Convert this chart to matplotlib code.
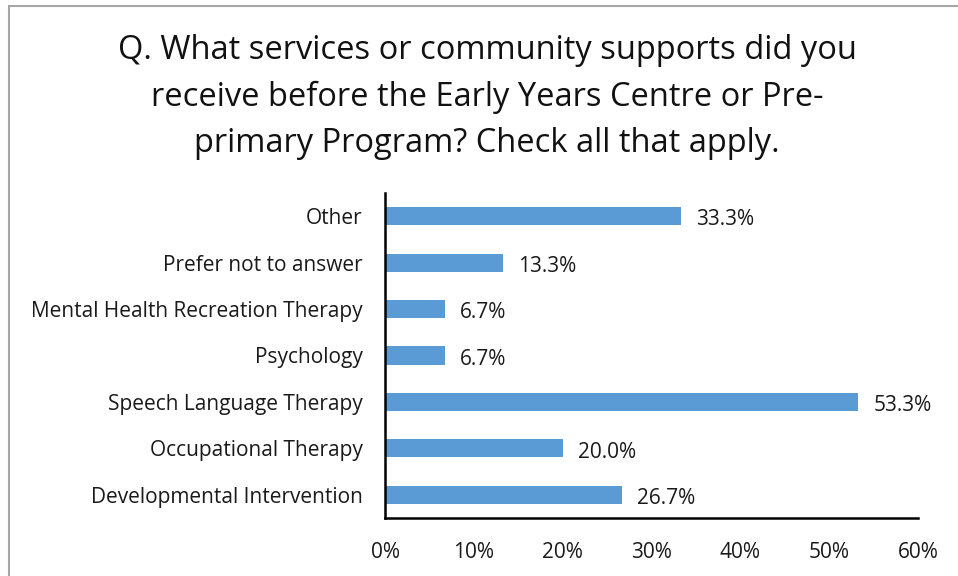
import matplotlib.pyplot as plt
from matplotlib.patches import Rectangle

# survey responses, bottom to top as drawn
servicios = ['Developmental Intervention', 'Occupational Therapy', 'Speech Language Therapy',
             'Psychology', 'Mental Health Recreation Therapy', 'Prefer not to answer', 'Other']
porcentajes = [26.7, 20.0, 53.3, 6.7, 6.7, 13.3, 33.3]
ticks_x = [0, 10, 20, 30, 40, 50, 60]

plt.rcParams['font.family'] = ['Open Sans', 'DejaVu Sans']

fig = plt.figure(figsize=(9.58, 5.76), dpi=100)
fig.patches.append(Rectangle((9 / 958, -0.1), 1.2, (571 + 57) / 576, transform=fig.transFigure,
                             fill=False, edgecolor='#a6a6a6', linewidth=1.5))

ax = fig.add_axes([385 / 958, 1 - 518 / 576, (918 - 385) / 958, (518 - 193) / 576])
pos = range(len(servicios))
ax.barh(pos, porcentajes, height=0.39, color='#5b9bd5')
for p, v in zip(pos, porcentajes):
    ax.text(v + 1.7, p - 0.08, f'{v:.1f}%', va='center', ha='left', fontsize=15, color='#1a1a1a')

ax.set_xlim(0, 60)
ax.set_ylim(-0.5, len(servicios) - 0.5)
ax.set_xticks(ticks_x)
ax.set_xticklabels([f'{t}%' for t in ticks_x], fontsize=15, color='#1a1a1a')
ax.set_yticks(list(pos))
ax.set_yticklabels(servicios, fontsize=15, color='#1a1a1a')
ax.tick_params(length=0, pad=17, axis='x')
ax.tick_params(length=0, pad=16, axis='y')
for lado in ['top', 'right']:
    ax.spines[lado].set_visible(False)
ax.spines['left'].set_linewidth(1.8)
ax.spines['bottom'].set_linewidth(1.8)

fig.text(487 / 958, 1 - 97 / 576,
         'Q. What services or community supports did you\nreceive before the Early Years Centre or Pre-\nprimary Program? Check all that apply.',
         ha='center', va='center', fontsize=23.5, linespacing=1.55, color='#111111')

fig.savefig('out.png', dpi=100)
